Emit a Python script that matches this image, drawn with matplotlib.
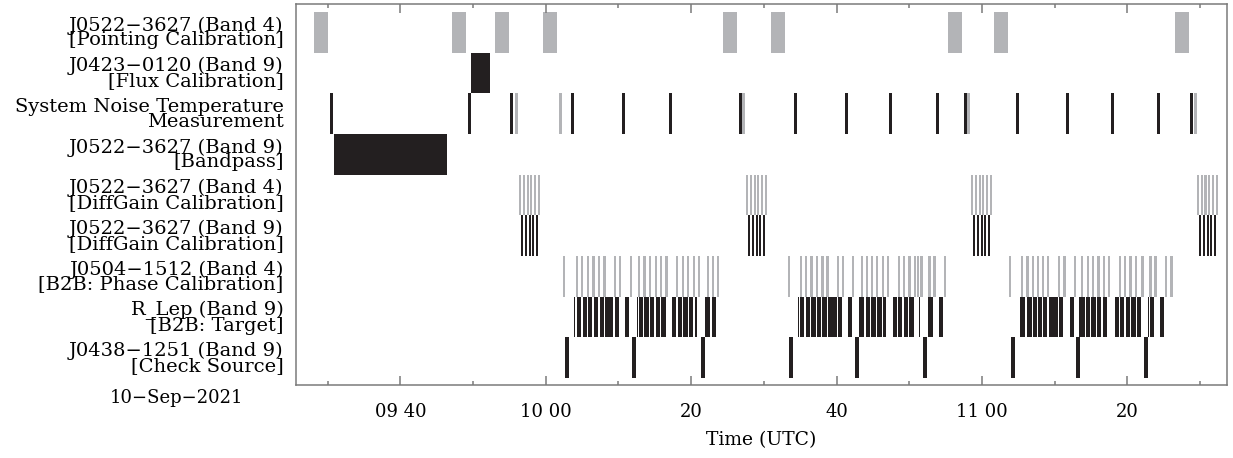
import matplotlib
matplotlib.use("Agg")
import matplotlib.pyplot as plt
from matplotlib.ticker import FixedLocator, FixedFormatter

# Time is given in minutes after 09:00 UTC, 10-Sep-2021
row_labels = [
    "J0522\u22123627 (Band 4)\n[Pointing Calibration]",
    "J0423\u22120120 (Band 9)\n[Flux Calibration]",
    "System Noise Temperature\nMeasurement",
    "J0522\u22123627 (Band 9)\n[Bandpass]",
    "J0522\u22123627 (Band 4)\n[DiffGain Calibration]",
    "J0522\u22123627 (Band 9)\n[DiffGain Calibration]",
    "J0504\u22121512 (Band 4)\n[B2B: Phase Calibration]",
    "R_Lep (Band 9)\n[B2B: Target]",
    "J0438\u22121251 (Band 9)\n[Check Source]",
]
date_label = "10\u2212Sep\u22122021"
tick_minutes = [40, 60, 80, 100, 120, 140]
tick_labels = ["09 40", "10 00", "20", "40", "11 00", "20"]
minor_minutes = [30, 50, 70, 90, 110, 130, 150]

# (start, end) of scans
pointing_b4 = [(28.13, 30.06), (47.11, 49.04), (53.03, 54.95), (59.63, 61.55),
               (84.39, 86.31), (90.99, 92.92), (115.34, 117.26), (121.66, 123.59),
               (146.56, 148.49)]
flux_b9 = [(49.72, 52.34)]
bandpass_b9 = [(30.87, 46.42)]

# scan start times with a fixed scan length
tsys_b9 = [30.33, 49.31, 55.08, 63.47, 70.49, 76.96, 86.59, 94.15, 101.17, 107.22,
           113.69, 117.54, 124.69, 131.57, 137.76, 144.09, 148.62]
tsys_b4 = [55.77, 61.83, 87.00, 117.95, 149.17]
tsys_len = 0.41

diffgain_b4 = [56.33, 56.85, 57.37, 57.89, 58.42, 58.94,
               87.55, 88.07, 88.60, 89.12, 89.64, 90.16,
               118.50, 119.02, 119.54, 120.07, 120.59, 121.11,
               149.58, 150.10, 150.62, 151.15, 151.67, 152.19]
diffgain_b9 = [56.60, 57.12, 57.65, 58.17, 58.69,
               87.83, 88.35, 88.87, 89.39, 89.91,
               118.77, 119.29, 119.82, 120.34, 120.86,
               149.86, 150.38, 150.90, 151.42, 151.94]
diffgain_len = 0.28

phase_b4 = [62.38, 64.17, 64.86, 65.64, 66.41, 67.20, 67.92, 69.33, 70.08, 71.53,
            72.70, 73.43, 74.17, 74.97, 75.72, 76.45, 77.95, 78.68, 79.46, 80.19,
            80.92, 82.12, 82.85, 83.56,
            93.26, 94.91, 95.67, 96.40, 97.14, 97.91, 98.62, 100.04, 100.78, 102.09,
            103.30, 103.99, 104.72, 105.46, 106.19, 106.92, 108.42, 109.15, 109.88,
            110.59, 111.07, 111.55, 112.63, 113.34, 114.72,
            123.73, 125.42, 126.11, 126.85, 127.58, 128.29, 128.99, 130.51, 131.20,
            132.60, 133.67, 134.42, 135.17, 135.90, 136.63, 137.37, 138.88, 139.57,
            140.30, 141.02, 141.93, 143.03, 143.74, 145.12, 145.94]
phase_len = 0.3

target_b9 = [
    (63.89, 63.99), (64.26, 64.86), (65.09, 65.68), (65.82, 66.41), (66.64, 67.24),
    (67.43, 68.02), (68.12, 69.30), (69.49, 70.08), (70.87, 71.46), (72.52, 72.65),
    (72.79, 73.38), (73.56, 74.17), (74.35, 74.94), (75.10, 75.70), (75.89, 76.48),
    (77.37, 77.95), (78.13, 78.72), (78.91, 79.51), (79.68, 80.29), (80.47, 80.81),
    (81.91, 82.01), (82.09, 82.64), (82.83, 83.38),
    (94.71, 94.84), (94.94, 95.53), (95.74, 96.36), (96.52, 97.14), (97.28, 97.90),
    (98.05, 98.67), (98.81, 100.00), (100.14, 100.73), (101.61, 102.16), (103.07, 103.18),
    (103.26, 103.82), (104.03, 104.64), (104.81, 105.41), (105.60, 106.19), (106.37, 106.78),
    (107.75, 108.30), (108.46, 109.05), (109.22, 109.81), (110.00, 110.59), (111.35, 111.45),
    (112.41, 112.49), (112.63, 113.23), (114.14, 114.69),
    (125.24, 125.34), (125.38, 125.97), (126.27, 126.86), (127.00, 127.61), (127.74, 128.31),
    (128.45, 129.02), (129.23, 130.44), (130.63, 131.22), (132.12, 132.67), (133.36, 133.45),
    (133.53, 134.14), (134.32, 134.87), (135.05, 135.63), (135.83, 136.38), (136.62, 137.21),
    (138.31, 138.89), (139.04, 139.61), (139.79, 140.37), (140.53, 141.13), (141.31, 141.86),
    (142.89, 142.99), (143.08, 143.67), (144.50, 145.05), (145.42, 145.53),
]
check_b9 = [62.65, 71.87, 81.36, 93.47, 102.54, 111.90, 124.00, 132.94, 142.30]
check_len = 0.55

GRAY = "#b3b4b7"
BLACK = "#231f20"
AXCOL = "#7a7a7a"

plt.rcParams['font.family'] = ['DejaVu Serif']

fig = plt.figure(figsize=(12.33, 4.58), dpi=100)
ax = fig.add_axes([0.2401, 0.1594, 0.7550, 0.8319])


def spans(pairs):
    return [(s, e - s) for s, e in pairs]


def fixed(starts, length):
    return [(s, length) for s in starts]


rows = [
    [(spans(pointing_b4), GRAY)],
    [(spans(flux_b9), BLACK)],
    [(fixed(tsys_b9, tsys_len), BLACK), (fixed(tsys_b4, tsys_len), GRAY)],
    [(spans(bandpass_b9), BLACK)],
    [(fixed(diffgain_b4, diffgain_len), GRAY)],
    [(fixed(diffgain_b9, diffgain_len), BLACK)],
    [(fixed(phase_b4, phase_len), GRAY)],
    [(spans(target_b9), BLACK)],
    [(fixed(check_b9, check_len), BLACK)],
]
for i, parts in enumerate(rows):
    for xr, col in parts:
        ax.broken_barh(xr, (i, 1.0), facecolors=col, linewidth=0)

ax.set_xlim(25.65, 153.71)
ax.set_ylim(9.17, -0.2)

ax.set_yticks([i + 0.5 for i in range(len(row_labels))])
ax.set_yticklabels(row_labels, fontsize=14)
for lab in ax.get_yticklabels():
    lab.set_linespacing(0.78)
ax.tick_params(axis='y', length=0, pad=9)

ax.xaxis.set_major_locator(FixedLocator(tick_minutes))
ax.xaxis.set_major_formatter(FixedFormatter(tick_labels))
ax.xaxis.set_minor_locator(FixedLocator(minor_minutes))
ax.tick_params(axis='x', which='both', direction='in', top=True, bottom=True,
               color=AXCOL, width=1.1, labelsize=13, pad=13)
ax.tick_params(axis='x', which='major', length=6.5)
ax.tick_params(axis='x', which='minor', length=3.2)
ax.set_xlabel("Time (UTC)", fontsize=13.5, labelpad=7)

for sp in ax.spines.values():
    sp.set_color(AXCOL)
    sp.set_linewidth(1.1)

fig.text(176 / 1233, 1 - 398 / 458, date_label, fontsize=13, ha='center', va='center')

fig.savefig("out.png", dpi=100)
